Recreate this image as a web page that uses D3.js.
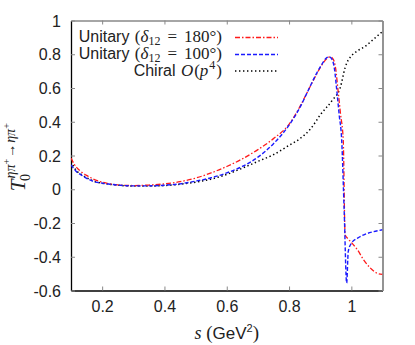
<!DOCTYPE html>
<html><head><meta charset="utf-8">
<script src="https://cdn.jsdelivr.net/npm/d3@7"></script>
<style>html,body{margin:0;padding:0;background:#fff;}svg{display:block;}</style>
</head><body>
<script>
// ---- data ----
const redS = [0.1,0.11,0.12,0.13,0.15,0.17,0.2,0.225,0.25,0.3,0.35,0.4,0.45,0.5,0.55,0.6,0.65,0.7,0.75,0.8,0.835,0.86,0.885,0.905,0.92,0.932,0.942,0.95,0.957,0.965,0.974,0.98,0.99,1.0,1.02,1.04,1.06,1.08,1.1];
const redV = [0.185,0.15,0.125,0.108,0.082,0.062,0.042,0.032,0.026,0.022,0.025,0.032,0.045,0.066,0.097,0.135,0.18,0.235,0.30,0.385,0.49,0.58,0.67,0.735,0.772,0.785,0.77,0.71,0.59,0.45,0.29,-0.27,-0.295,-0.315,-0.36,-0.42,-0.465,-0.495,-0.505];
const blueS = [0.1,0.11,0.12,0.13,0.15,0.17,0.2,0.225,0.25,0.3,0.35,0.4,0.45,0.5,0.55,0.6,0.65,0.7,0.75,0.8,0.835,0.86,0.885,0.905,0.918,0.928,0.938,0.946,0.953,0.961,0.969,0.977,0.985,0.99,1.0,1.02,1.04,1.07,1.1];
const blueV = [0.145,0.12,0.10,0.088,0.065,0.048,0.036,0.03,0.025,0.02,0.02,0.024,0.032,0.048,0.068,0.097,0.135,0.19,0.27,0.38,0.485,0.58,0.675,0.74,0.775,0.785,0.77,0.71,0.59,0.44,0.29,-0.13,-0.556,-0.37,-0.32,-0.29,-0.27,-0.252,-0.24];
const chiralS = [0.1,0.11,0.12,0.13,0.15,0.17,0.2,0.225,0.25,0.3,0.35,0.4,0.45,0.5,0.55,0.6,0.65,0.7,0.75,0.8,0.835,0.87,0.9,0.94,0.964,0.98,0.99,1.05,1.1];
const chiralV = [0.165,0.13,0.105,0.092,0.068,0.05,0.036,0.029,0.024,0.019,0.019,0.022,0.03,0.042,0.06,0.088,0.125,0.165,0.205,0.26,0.30,0.36,0.44,0.53,0.60,0.72,0.765,0.855,0.935];
const xTicks = [0.2,0.4,0.6,0.8,1.0];
const xTickLabels = ["0.2","0.4","0.6","0.8","1"];
const yTicks = [-0.6,-0.4,-0.2,0,0.2,0.4,0.6,0.8,1];
const yTickLabels = ["-0.6","-0.4","-0.2","0","0.2","0.4","0.6","0.8","1"];

// ---- layout ----
const W = 415, H = 345;
const L = 71, R = 382.5, T = 20.5, B = 290.5;
const SANS = "'Liberation Sans', Arial, Helvetica, sans-serif";
const SERIF = "'Liberation Serif', 'Times New Roman', serif";

const svg = d3.select("body").append("svg").attr("width", W).attr("height", H);
const x = d3.scaleLinear().domain([0.1, 1.1]).range([L, R]);
const y = d3.scaleLinear().domain([-0.6, 1]).range([B, T]);

svg.append("defs").append("clipPath").attr("id","clip")
  .append("rect").attr("x", L).attr("y", T).attr("width", R-L).attr("height", B-T);

// axes (ticks inward)
const gx = svg.append("g").attr("transform",`translate(0,${B})`)
  .call(d3.axisBottom(x).tickValues(xTicks).tickFormat((d,i)=>xTickLabels[i]).tickSizeInner(-4).tickSizeOuter(0).tickPadding(10));
const gy = svg.append("g").attr("transform",`translate(${L},0)`)
  .call(d3.axisLeft(y).tickValues(yTicks).tickFormat((d,i)=>yTickLabels[i]).tickSizeInner(-4).tickSizeOuter(0).tickPadding(10));
const gxt = svg.append("g").attr("transform",`translate(0,${T})`)
  .call(d3.axisTop(x).tickValues(xTicks).tickFormat("").tickSizeInner(-4).tickSizeOuter(0));
const gyr = svg.append("g").attr("transform",`translate(${R},0)`)
  .call(d3.axisRight(y).tickValues(yTicks).tickFormat("").tickSizeInner(-4).tickSizeOuter(0));
[gx, gy, gxt, gyr].forEach(g => {
  g.selectAll(".tick line").attr("stroke", "#888").attr("stroke-width", 1);
  g.selectAll("text").attr("font-family", SANS).attr("font-size", 16).attr("fill", "#222");
});
gx.select(".domain").attr("stroke","#000").attr("stroke-width",1.3);
gy.select(".domain").attr("stroke","#000").attr("stroke-width",1.3);
gxt.select(".domain").attr("stroke","#888").attr("stroke-width",1.3);
gyr.select(".domain").attr("stroke","#888").attr("stroke-width",1.8);
gx.selectAll("text").attr("dy","0.71em");
gy.selectAll("text").attr("dy","0.35em");

// lines
const line = d3.line().x(d=>x(d[0])).y(d=>y(d[1])).curve(d3.curveMonotoneX);
const plot = svg.append("g").attr("clip-path","url(#clip)");
const series = [
  {s: chiralS, v: chiralV, color: "#000", dash: "1.4,2.6", w: 1.5},
  {s: redS, v: redV, color: "#ff1a1a", dash: "5,2,1.5,2", w: 1.3},
  {s: blueS, v: blueV, color: "#1a1aff", dash: "4,2", w: 1.4},
];
series.forEach(se => {
  plot.append("path").datum(se.s.map((s,i)=>[s, se.v[i]]))
    .attr("d", line).attr("fill","none").attr("stroke", se.color)
    .attr("stroke-width", se.w).attr("stroke-dasharray", se.dash);
});

// legend
const legRight = 222, legX1 = 235, legX2 = 278;
function legRow(yb, parts) {
  const t = svg.append("text").attr("x", legRight).attr("y", yb).attr("text-anchor","end")
    .attr("font-size", 17).attr("fill","#222");
  parts.forEach(p => {
    const ts = t.append("tspan").text(p.t).attr("font-family", p.f || SERIF);
    if (p.i) ts.attr("font-style","italic");
    if (p.sz) ts.attr("font-size", p.sz);
    if (p.dy) ts.attr("dy", p.dy);
    if (p.dx) ts.attr("dx", p.dx);
  });
}
legRow(41.5, [{t:"Unitary ", f:SANS, sz:16},{t:"(", dx:1},{t:"δ", i:1},{t:"12", sz:12, dy:3},{t:"=", dy:-3, dx:7},{t:"180°)", dx:7}]);
legRow(58.5, [{t:"Unitary ", f:SANS, sz:16},{t:"(", dx:1},{t:"δ", i:1},{t:"12", sz:12, dy:3},{t:"=", dy:-3, dx:7},{t:"100°)", dx:7}]);
legRow(76, [{t:"Chiral ", f:SANS, sz:16},{t:"O", i:1, dx:1},{t:"(", dx:1},{t:"p", i:1},{t:"4", sz:12, dy:-7, dx:1},{t:")", dy:7, dx:1}]);
[[37.5, series[1]], [54.5, series[2]], [71, series[0]]].forEach(([yy, se]) => {
  svg.append("line").attr("x1", legX1).attr("x2", legX2).attr("y1", yy).attr("y2", yy)
    .attr("stroke", se.color).attr("stroke-width", se.w).attr("stroke-dasharray", se.dash);
});

// x label
const xl = svg.append("text").attr("x", (L+R)/2).attr("y", 339).attr("text-anchor","middle")
  .attr("font-size", 18).attr("fill","#222");
xl.append("tspan").text("s").attr("font-family", SERIF).attr("font-style","italic");
xl.append("tspan").text(" (").attr("font-family", SERIF).attr("font-size", 19);
xl.append("tspan").text("GeV").attr("font-family", SANS).attr("font-size", 17);
xl.append("tspan").text("2").attr("font-family", SANS).attr("font-size", 11).attr("dy", -7);
xl.append("tspan").text(")").attr("font-family", SERIF).attr("font-size", 19).attr("dy", 7);

// y label (rotated), composed with measurement
const yg = svg.append("g");
const inner = yg.append("g");
const tT = inner.append("text").attr("x",0).attr("y",0).text("T")
  .attr("font-family", SERIF).attr("font-style","italic").attr("font-size", 21).attr("fill","#222");
const wT = tT.node().getComputedTextLength();
inner.append("text").attr("x", wT - 1.5).attr("y", 5).text("0")
  .attr("font-family", SERIF).attr("font-size", 14).attr("fill","#222");
const sup = inner.append("text").attr("x", wT + 1).attr("y", -10)
  .attr("font-family", SERIF).attr("font-size", 14).attr("fill","#222");
sup.append("tspan").text("ηπ").attr("font-style","italic");
sup.append("tspan").text("+").attr("font-size", 10).attr("dy", -5);
sup.append("tspan").text("→").attr("dy", 5).attr("dx", 1);
sup.append("tspan").text("ηπ").attr("font-style","italic").attr("dx", 1);
sup.append("tspan").text("+").attr("font-size", 10).attr("dy", -5);
const bb = inner.node().getBBox();
inner.attr("transform", `translate(${-(bb.x + bb.width/2)},0)`);
yg.attr("transform", `translate(25,157) rotate(-90)`);
</script>
</body></html>
